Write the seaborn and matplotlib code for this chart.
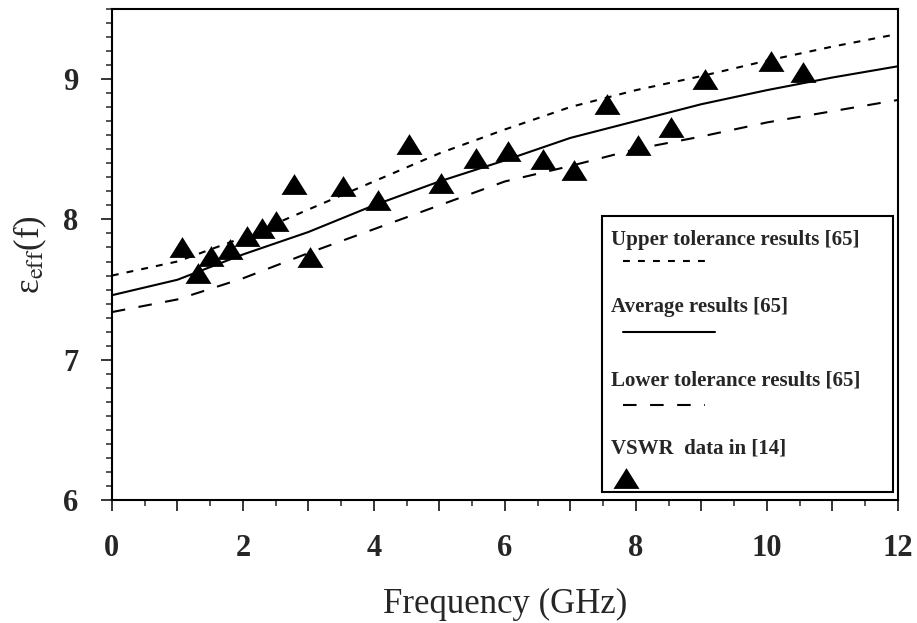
import numpy as np
import pandas as pd
import matplotlib
matplotlib.use("Agg")
import matplotlib.pyplot as plt
import seaborn as sns
from matplotlib.patches import Rectangle
from matplotlib.ticker import MultipleLocator, FixedLocator, FixedFormatter

# ---- data ----
curve_freq = [0, 1, 2, 3, 4, 5, 6, 7, 8, 9, 10, 11, 12]
upper_eps = [7.60, 7.70, 7.87, 8.07, 8.27, 8.47, 8.64, 8.80, 8.92, 9.02, 9.13, 9.23, 9.32]
avg_eps = [7.46, 7.57, 7.75, 7.91, 8.10, 8.27, 8.42, 8.58, 8.70, 8.82, 8.92, 9.01, 9.09]
lower_eps = [7.34, 7.43, 7.58, 7.76, 7.93, 8.10, 8.27, 8.38, 8.50, 8.59, 8.69, 8.77, 8.85]

vswr_freq = [1.07, 1.32, 1.52, 1.80, 2.06, 2.29, 2.51, 2.78, 3.02, 3.53, 4.06,
             4.54, 5.03, 5.56, 6.05, 6.58, 7.05, 7.56, 8.04, 8.54, 9.05, 10.06, 10.55]
vswr_eps = [7.80, 7.62, 7.74, 7.79, 7.88, 7.94, 7.99, 8.25, 7.73, 8.24, 8.14,
            8.54, 8.26, 8.44, 8.49, 8.43, 8.35, 8.82, 8.53, 8.66, 9.00, 9.13, 9.05]

x_ticks = [0, 1, 2, 3, 4, 5, 6, 7, 8, 9, 10, 11, 12]
x_ticklabels = ["0", "", "2", "", "4", "", "6", "", "8", "", "10", "", "12"]
y_ticks = [6, 7, 8, 9]

legend_labels = ["Upper tolerance results [65]", "Average results [65]",
                 "Lower tolerance results [65]", "VSWR  data in [14]"]

curves = pd.DataFrame({"freq": curve_freq, "upper": upper_eps,
                       "avg": avg_eps, "lower": lower_eps})
vswr = pd.DataFrame({"freq": vswr_freq, "eps": vswr_eps})

# ---- style ----
sns.set_style("ticks")
plt.rcParams['font.family'] = ['Liberation Serif', 'DejaVu Serif']
plt.rcParams['mathtext.fontset'] = 'stix'

upper_ls = (0, (3.3, 3.9))
lower_ls = (0, (6.5, 6.5))
tri = [(-1, -0.8), (1, -0.8), (0, 0.8)]

fig = plt.figure(figsize=(9.17, 6.23), dpi=100)
ax = fig.add_axes([0.122, 0.197, 0.857, 0.789])

sns.lineplot(data=curves, x="freq", y="upper", ax=ax, color="black",
             linewidth=1.5, linestyle=upper_ls)
sns.lineplot(data=curves, x="freq", y="avg", ax=ax, color="black",
             linewidth=1.5)
sns.lineplot(data=curves, x="freq", y="lower", ax=ax, color="black",
             linewidth=1.5, linestyle=lower_ls)
sns.scatterplot(data=vswr, x="freq", y="eps", ax=ax, color="black",
                marker=tri, s=350, edgecolor="black", linewidth=0, zorder=5)

ax.set_xlim(0, 12)
ax.set_ylim(6, 9.5)
ax.xaxis.set_major_locator(FixedLocator(x_ticks))
ax.xaxis.set_major_formatter(FixedFormatter(x_ticklabels))
ax.xaxis.set_minor_locator(MultipleLocator(0.5))
ax.yaxis.set_major_locator(FixedLocator(y_ticks))
ax.yaxis.set_minor_locator(MultipleLocator(0.1))
ax.tick_params(axis="both", which="major", direction="out", length=8,
               width=1.3, labelsize=22, pad=16)
ax.tick_params(axis="both", which="minor", direction="out", length=4, width=1.1)
for lbl in ax.get_xticklabels() + ax.get_yticklabels():
    lbl.set_fontweight("bold")
for sp in ax.spines.values():
    sp.set_linewidth(1.5)
    sp.set_color("black")

ax.set_xlabel("Frequency (GHz)", fontsize=25, labelpad=18)
ax.set_ylabel(r"ε$_{\mathrm{eff}}$(f)", fontsize=25, labelpad=10)

# ---- legend box: label above its sample, like the original ----
tr = ax.transAxes
ax.add_patch(Rectangle((0.624, 0.016), 0.370, 0.562, transform=tr, fill=False,
                       edgecolor="black", linewidth=1.5, zorder=6))
text_y = [0.530, 0.393, 0.244, 0.106]
sample_y = [0.487, 0.342, 0.193, 0.045]
for lab, ty in zip(legend_labels, text_y):
    ax.text(0.635, ty, lab, transform=tr, fontsize=15, fontweight="bold",
            va="center", ha="left", zorder=7)
ax.plot([0.650, 0.763], [sample_y[0]] * 2, transform=tr, color="black",
        linewidth=1.5, linestyle=upper_ls, zorder=7)
ax.plot([0.650, 0.768], [sample_y[1]] * 2, transform=tr, color="black",
        linewidth=1.5, zorder=7)
ax.plot([0.650, 0.755], [sample_y[2]] * 2, transform=tr, color="black",
        linewidth=1.5, linestyle=lower_ls, zorder=7)
ax.scatter([0.654], [sample_y[3]], transform=tr, color="black", marker=tri,
           s=350, linewidth=0, zorder=7)

fig.savefig("out.png", dpi=100)
